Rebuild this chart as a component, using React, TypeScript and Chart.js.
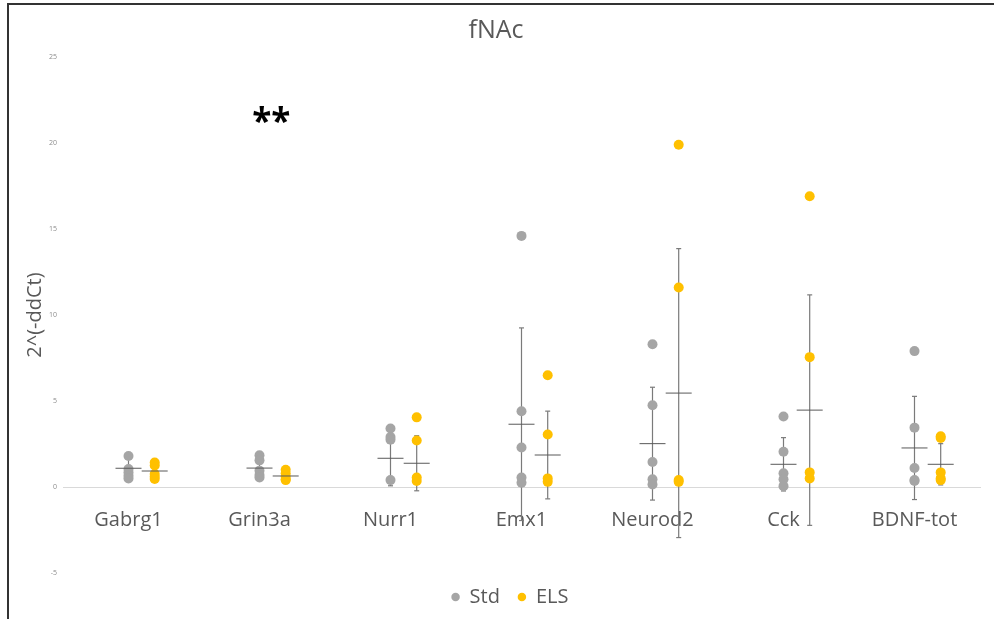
import React, { useEffect, useRef } from "react";
import { Chart, registerables } from "chart.js";

Chart.register(...registerables);

const categories = ["Gabrg1", "Grin3a", "Nurr1", "Emx1", "Neurod2", "Cck", "BDNF-tot"];

const stdValues = [
  [1.8, 1.05, 0.85, 0.65, 0.5],
  [1.85, 1.55, 0.95, 0.7, 0.55],
  [3.4, 2.9, 2.75, 0.4],
  [14.6, 4.4, 2.3, 0.55, 0.25],
  [8.3, 4.75, 1.45, 0.45, 0.15],
  [4.1, 2.05, 0.8, 0.45, 0.05],
  [7.9, 3.45, 1.1, 0.4, 0.35],
];

const elsValues = [
  [1.42, 1.25, 0.75, 0.6, 0.47],
  [1.0, 0.8, 0.6, 0.45, 0.4],
  [4.05, 2.7, 0.55, 0.35],
  [6.5, 3.05, 0.5, 0.3],
  [19.9, 11.6, 0.4, 0.3],
  [16.9, 7.55, 0.85, 0.5],
  [2.95, 2.85, 0.85, 0.5, 0.4],
];

const stdMeans = [1.09, 1.1, 1.67, 3.65, 2.52, 1.32, 2.27];
const stdErrors = [0.55, 0.55, 1.6, 5.6, 3.28, 1.55, 3.0];
const elsMeans = [0.93, 0.64, 1.38, 1.86, 5.46, 4.47, 1.32];
const elsErrors = [0.35, 0.25, 1.6, 2.55, 8.4, 6.7, 1.2];

const yMin = -5;
const yMax = 25;
const yStep = 5;

const significance = "**";
const significanceCategory = 2; // Grin3a

// layout / style constants
const ELS_OFFSET = 0.2;
const FONT = '"Open Sans", sans-serif';
const GREY = "#a5a5a5";
const GOLD = "#ffc000";
const TEXT = "#595959";

function pointsFor(values: number[][], offset: number) {
  return values.flatMap((vals, i) => vals.map((v) => ({ x: i + 1 + offset, y: v })));
}
function meansFor(means: number[], offset: number) {
  return means.map((m, i) => ({ x: i + 1 + offset, y: m }));
}
function errorsFor(means: number[], errs: number[], offset: number) {
  return means.flatMap((m, i) => [
    { x: i + 1 + offset, y: m - errs[i] },
    { x: i + 1 + offset, y: m + errs[i] },
    { x: i + 1 + offset, y: null as any },
  ]);
}

const annotationPlugin = {
  id: "sigAnnotation",
  afterDatasetsDraw(chart: any) {
    const { ctx, scales } = chart;
    const x = scales.x.getPixelForValue(significanceCategory + 0.09);
    const y = scales.y.getPixelForValue(20.6);
    ctx.save();
    ctx.font = `bold 35px ${FONT}`;
    ctx.fillStyle = "#000";
    ctx.textAlign = "center";
    ctx.textBaseline = "alphabetic";
    ctx.fillText(significance, x, y);
    ctx.restore();
  },
};

const legendShiftPlugin = {
  id: "legendShift",
  afterLayout(chart: any) {
    const lg = chart.legend;
    if (!lg) return;
    lg.left += 14;
    lg.right += 14;
    lg.top -= 4;
    lg.bottom -= 4;
  },
};

export default function App() {
  const canvasRef = useRef<HTMLCanvasElement>(null);

  useEffect(() => {
    if (!canvasRef.current) return;
    const errStyle = {
      type: "scatter" as const,
      showLine: true,
      spanGaps: false,
      borderColor: "#7a7a7a",
      borderWidth: 1.2,
      pointStyle: "line" as const,
      pointRadius: 2.5,
      pointBorderColor: "#7a7a7a",
      pointBorderWidth: 1.2,
      order: 2,
    };
    const meanStyle = {
      type: "scatter" as const,
      pointStyle: "line" as const,
      pointRadius: 13,
      borderColor: "#595959",
      pointBorderColor: "#595959",
      borderWidth: 1,
      pointBorderWidth: 1,
      order: 0,
    };
    const chart = new Chart(canvasRef.current, {
      type: "scatter",
      data: {
        datasets: [
          {
            label: "Std",
            data: pointsFor(stdValues, 0),
            backgroundColor: GREY,
            borderColor: GREY,
            borderWidth: 0,
            pointRadius: 5,
            order: 1,
          },
          {
            label: "ELS",
            data: pointsFor(elsValues, ELS_OFFSET),
            backgroundColor: GOLD,
            borderColor: GOLD,
            borderWidth: 0,
            pointRadius: 5,
            order: 1,
          },
          { label: "Std mean", data: meansFor(stdMeans, 0), ...meanStyle },
          { label: "ELS mean", data: meansFor(elsMeans, ELS_OFFSET), ...meanStyle },
          { label: "Std err", data: errorsFor(stdMeans, stdErrors, 0), ...errStyle },
          { label: "ELS err", data: errorsFor(elsMeans, elsErrors, ELS_OFFSET), ...errStyle },
        ] as any,
      },
      options: {
        responsive: false,
        animation: false,
        layout: { padding: { left: 0, right: 2, top: 0, bottom: -2 } },
        plugins: {
          tooltip: { enabled: false },
          title: {
            display: true,
            text: "fNAc",
            color: TEXT,
            font: { family: FONT, size: 25, weight: "normal" },
            padding: { top: 16, bottom: 11 },
          },
          legend: {
            position: "bottom",
            labels: {
              filter: (item: any) => item.datasetIndex < 2,
              usePointStyle: true,
              boxWidth: 8,
              boxHeight: 6,
              padding: 18,
              color: TEXT,
              font: { family: FONT, size: 20 },
            },
          },
        },
        scales: {
          x: {
            type: "linear",
            position: { y: 0 } as any,
            min: 0.5,
            max: 7.5,
            grid: { display: false, drawTicks: false },
            border: { display: true, color: "#d9d9d9", width: 1 },
            afterBuildTicks: (axis: any) => {
              axis.ticks = categories.map((_, i) => ({ value: i + 1 }));
            },
            ticks: {
              autoSkip: false,
              maxRotation: 0,
              padding: 21,
              color: TEXT,
              font: { family: FONT, size: 20 },
              callback: (v: any) => categories[Math.round(Number(v)) - 1] ?? "",
            },
          },
          y: {
            type: "linear",
            min: yMin,
            max: yMax,
            grid: { display: false, drawTicks: false },
            border: { display: false },
            afterFit: (scale: any) => {
              scale.width = 63;
            },
            ticks: {
              stepSize: yStep,
              padding: 6,
              color: "#8c8c8c",
              font: { family: FONT, size: 7 },
            },
            title: {
              display: true,
              text: "2^(-ddCt)",
              color: TEXT,
              font: { family: FONT, size: 20 },
              padding: { top: 23, bottom: 0 },
            },
          },
        },
      },
      plugins: [annotationPlugin, legendShiftPlugin],
    });
    return () => chart.destroy();
  }, []);

  return (
    <div style={{ position: "fixed", left: 0, top: 0, width: 994, height: 619, background: "#fff", overflow: "hidden" }}>
      <div
        style={{
          position: "absolute",
          left: 7,
          top: 3,
          right: -10,
          bottom: -10,
          borderTop: "2px solid #333",
          borderLeft: "2px solid #333",
        }}
      />
      <canvas ref={canvasRef} width={994} height={619} style={{ position: "absolute", left: 0, top: 0 }} />
    </div>
  );
}
